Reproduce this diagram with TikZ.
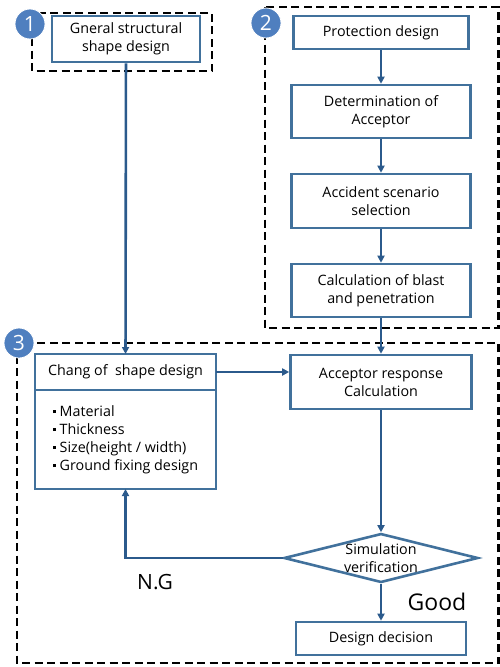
\documentclass[tikz,border=0pt]{standalone}
\usepackage{fontspec}
\setmainfont{Open Sans}
\usetikzlibrary{arrows.meta,shapes.geometric}
\definecolor{boxblue}{HTML}{41719C}
\definecolor{arrblue}{HTML}{2B5A8C}
\definecolor{numblue}{HTML}{4F7FBF}
\tikzset{
  box/.style={draw=boxblue, line width=2.6pt, fill=white, align=center, font=\fontsize{14.3}{18}\selectfont},
  flow/.style={draw=arrblue, line width=2.6pt, -{Triangle[width=7pt,length=7pt]}},
  area/.style={draw=black, line width=2.6pt, dash pattern=on 8pt off 4.5pt},
  num/.style={circle, fill=numblue, draw=white, line width=0.8pt, minimum size=30pt, inner sep=0pt, text=white, font=\fontsize{21}{21}\selectfont}
}
\begin{document}
\begin{tikzpicture}[x=1pt,y=-1pt]
\useasboundingbox (0,0) rectangle (500,667);

% dashed areas
\draw[area] (32,13) rectangle (212,71);
\draw[area] (265,7) rectangle (498.5,328);
\draw[area] (17,343) rectangle (498.5,663);

% part 1
\node[box, minimum width=148pt, minimum height=46pt] (general) at (126,39) {Gneral structural\\shape design};

% part 2
\node[box, minimum width=175pt, minimum height=33pt] (protect) at (381,32.5) {Protection design};
\node[box, minimum width=179pt, minimum height=53pt] (determ) at (381,111.5) {Determination of\\Acceptor};
\node[box, minimum width=179pt, minimum height=54pt] (accident) at (381,201) {Accident scenario\\selection};
\node[box, minimum width=179pt, minimum height=53pt] (blast) at (381,290.5) {Calculation of blast\\and penetration};

% part 3
\node[box, outer sep=0pt, minimum width=181pt, minimum height=36pt] (chang) at (125.5,372) {Chang of~~shape design};
\node[box, outer sep=0pt, minimum width=181pt, minimum height=99pt, align=left, anchor=north] (changlist) at (chang.south) {%
\rule[3pt]{3pt}{3pt}~Material\\
\rule[3pt]{3pt}{3pt}~Thickness\\
\rule[3pt]{3pt}{3pt}~Size(height / width)\\
\rule[3pt]{3pt}{3pt}~Ground fixing design};
\node[box, minimum width=181pt, minimum height=54pt] (response) at (381,382) {Acceptor response\\Calculation};
\node[box, diamond, aspect=4, minimum width=194pt, minimum height=49pt, inner sep=0pt] (verify) at (381,558) {};
\node[align=center, font=\fontsize{14.3}{18}\selectfont] (verifytext) at (verify.center) {Simulation\\verification};
\node[box, minimum width=170pt, minimum height=33pt] (decision) at (381,638.5) {Design decision};

\node[font=\fontsize{21}{21}\selectfont] (ng) at (155,582) {N.G};
\node[font=\fontsize{23}{23}\selectfont] (good) at (437,602) {Good};

% numbers
\node[num] (n1) at (30,24) {1};
\node[num] (n2) at (266,23) {2};
\node[num] (n3) at (19,343) {3};

% connectors
\draw[flow] (general) -- (chang);
\draw[flow] (protect) -- (determ);
\draw[flow] (determ) -- (accident);
\draw[flow] (accident) -- (blast);
\draw[flow] (blast) -- (response);
\draw[flow] (chang.east) -- (chang.east -| response.west);
\draw[flow] (response) -- (verify.north);
\draw[flow] (verify) -- (decision);
\draw[flow] (verify.west) -| (changlist.south);

\end{tikzpicture}
\end{document}
